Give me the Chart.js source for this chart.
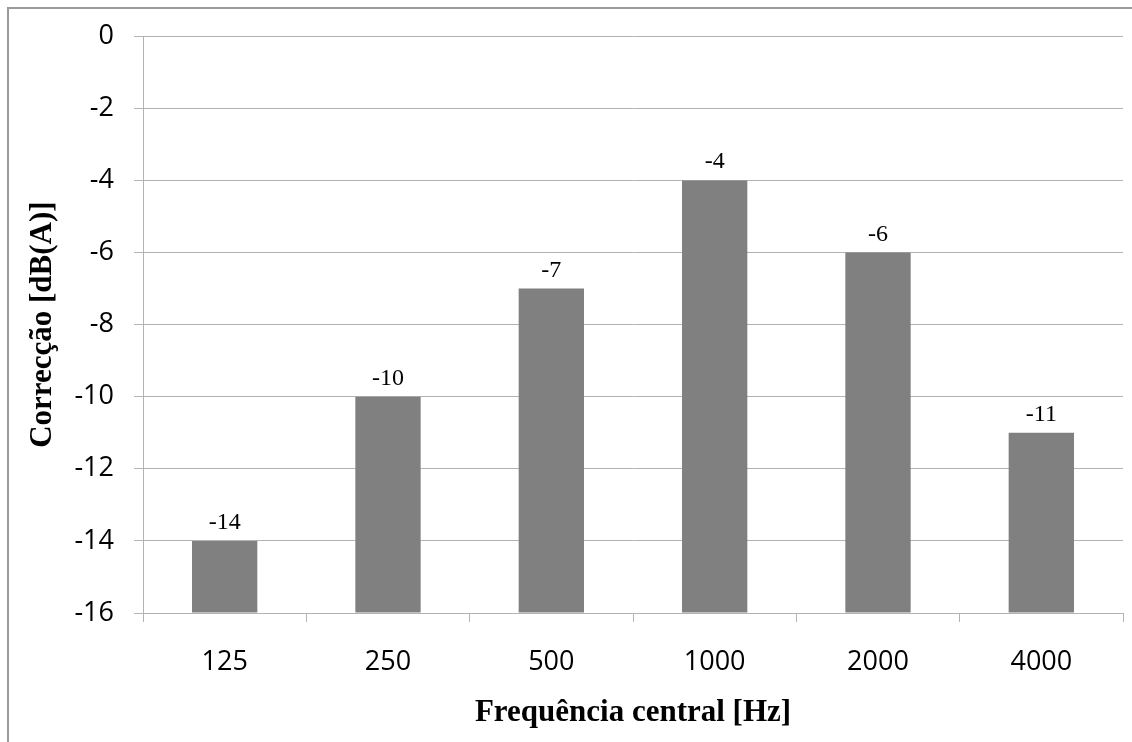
<!DOCTYPE html>
<html>
<head>
<meta charset="utf-8">
<script src="https://cdn.jsdelivr.net/npm/chart.js@4/dist/chart.umd.min.js"></script>
<style>
  html, body { margin: 0; padding: 0; background: #fff; }
  #wrap { position: relative; width: 1132px; height: 742px; }
  #frame { position: absolute; left: 7px; top: 7px; right: 0; bottom: 0; border-left: 2px solid #9a9a9a; border-top: 2px solid #9a9a9a; pointer-events: none; }
  canvas { position: absolute; left: 0; top: 0; }
</style>
</head>
<body>
<div id="wrap">
  <canvas id="c" width="1132" height="742"></canvas>
  <div id="frame"></div>
</div>
<script>
const categories = ['125', '250', '500', '1000', '2000', '4000'];
const correction = [-14, -10, -7, -4, -6, -11];
const yTicks = [0, -2, -4, -6, -8, -10, -12, -14, -16];
const xTitle = 'Frequência central [Hz]';
const yTitle = 'Correcção [dB(A)]';

const labelPlugin = {
  id: 'barLabels',
  afterDatasetsDraw(chart) {
    const ctx = chart.ctx;
    const meta = chart.getDatasetMeta(0);
    ctx.save();
    ctx.font = '24px "Liberation Serif", "Times New Roman", serif';
    ctx.fillStyle = '#000';
    ctx.textAlign = 'center';
    ctx.textBaseline = 'alphabetic';
    meta.data.forEach((bar, i) => {
      ctx.fillText(String(correction[i]), bar.x, bar.y - 12);
    });
    ctx.restore();
  }
};

new Chart(document.getElementById('c'), {
  type: 'bar',
  data: {
    labels: categories,
    datasets: [{
      data: correction,
      base: -16,
      backgroundColor: '#808080',
      borderWidth: 0,
      barPercentage: 0.4,
      categoryPercentage: 1.0
    }]
  },
  options: {
    responsive: false,
    animation: false,
    events: [],
    layout: { padding: { left: 24, right: 9, top: 33, bottom: 0 } },
    plugins: { legend: { display: false }, tooltip: { enabled: false } },
    scales: {
      x: {
        grid: { display: true, drawOnChartArea: false, drawTicks: true, tickLength: 9, color: '#b3b3b3', offset: true },
        border: { display: true, color: '#b3b3b3' },
        ticks: { color: '#000', font: { family: '"Open Sans"', size: 27 }, padding: 24 },
        title: { display: true, text: xTitle, color: '#000', font: { family: '"Liberation Serif"', size: 31, weight: 'bold' }, padding: { top: 0, bottom: 10 } },
        afterFit(scale) { scale.height = 129; }
      },
      y: {
        min: -16, max: 0,
        afterBuildTicks(scale) { scale.ticks = yTicks.map(v => ({ value: v })); },
        grid: { color: '#b3b3b3', tickLength: 9, drawTicks: true },
        border: { display: true, color: '#b3b3b3' },
        ticks: { color: '#000', font: { family: '"Open Sans"', size: 27 }, padding: 20 },
        title: { display: true, text: yTitle, color: '#000', font: { family: '"Liberation Serif"', size: 31, weight: 'bold' }, padding: 0 },
        afterFit(scale) { scale.width = 119; }
      }
    }
  },
  plugins: [labelPlugin]
});
</script>
</body>
</html>
